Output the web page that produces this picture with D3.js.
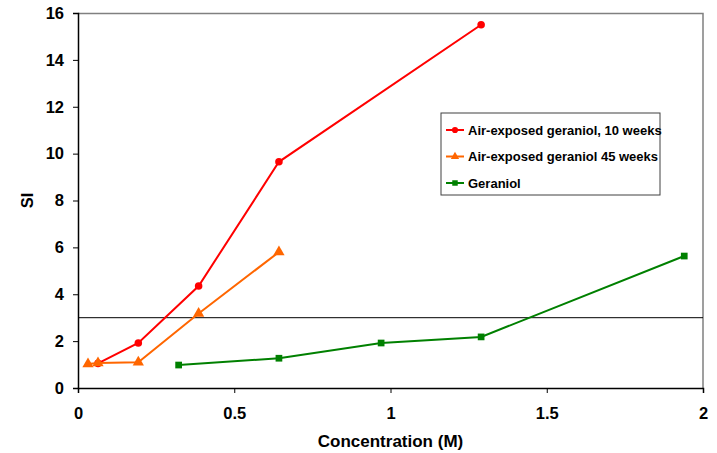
<!DOCTYPE html>
<html>
<head>
<meta charset="utf-8">
<script src="https://cdn.jsdelivr.net/npm/d3@7"></script>
<style>
  body { margin: 0; background: #fff; }
  text { font-family: "Liberation Sans", Arial, sans-serif; font-weight: bold; }
</style>
</head>
<body>
<div id="chart"></div>
<script>
// data
const seriesNames = ["Air-exposed geraniol, 10 weeks", "Air-exposed geraniol 45 weeks", "Geraniol"];
const red10x = [0.064, 0.193, 0.386, 0.643, 1.29];
const red10y = [1.05, 1.92, 4.35, 9.65, 15.5];
const orange45x = [0.032, 0.064, 0.193, 0.386, 0.643];
const orange45y = [1.02, 1.07, 1.1, 3.18, 5.8];
const geranX = [0.322, 0.643, 0.97, 1.29, 1.94];
const geranY = [0.98, 1.27, 1.92, 2.18, 5.63];
const threshold = 3;
const xTicks = [0, 0.5, 1, 1.5, 2];
const yTicks = [0, 2, 4, 6, 8, 10, 12, 14, 16];

const W = 717, H = 453;
const margin = { top: 13, right: 14, bottom: 65, left: 78 },
  width = W - margin.left - margin.right,
  height = H - margin.top - margin.bottom;

const colors = ["#ff0000", "#ff6600", "#008000"];
const symbols = [d3.symbolCircle, d3.symbolTriangle, d3.symbolSquare];

const series = [
  { name: seriesNames[0], pts: red10x.map((x, i) => [x, red10y[i]]) },
  { name: seriesNames[1], pts: orange45x.map((x, i) => [x, orange45y[i]]) },
  { name: seriesNames[2], pts: geranX.map((x, i) => [x, geranY[i]]) }
];

const x = d3.scaleLinear().domain([0, 2]).range([0, width]);
const y = d3.scaleLinear().domain([0, 16]).range([height, 0]);

const svg = d3.select("#chart")
  .append("svg")
  .attr("width", W)
  .attr("height", H)
  .append("g")
  .attr("transform", `translate(${margin.left}, ${margin.top})`);

// top + right frame
svg.append("path")
  .attr("d", `M0,0.5H${width}V${height}`)
  .attr("fill", "none")
  .attr("stroke", "#808080")
  .attr("stroke-width", 1.5);

// threshold line
svg.append("line")
  .attr("x1", 0).attr("x2", width)
  .attr("y1", y(threshold)).attr("y2", y(threshold))
  .attr("stroke", "#000").attr("stroke-width", 1);

// axes
svg.append("g")
  .attr("transform", `translate(0, ${height})`)
  .call(d3.axisBottom(x).tickValues(xTicks).tickFormat(d3.format("")).tickSize(5).tickPadding(14));
svg.append("g")
  .call(d3.axisLeft(y).tickValues(yTicks).tickSize(5).tickPadding(9));

svg.selectAll(".domain").attr("stroke", "#000").attr("stroke-width", 1.5);
svg.selectAll(".tick line").attr("stroke", "#000");
svg.selectAll(".tick text").style("font-size", "16.5px").attr("fill", "#000");

// lines + markers
const line = d3.line().x(d => x(d[0])).y(d => y(d[1]));
series.forEach((s, i) => {
  svg.append("path")
    .attr("d", line(s.pts))
    .attr("fill", "none")
    .attr("stroke", colors[i])
    .attr("stroke-width", 2);
  svg.selectAll(".m" + i)
    .data(s.pts)
    .enter()
    .append("path")
    .attr("d", d3.symbol().type(symbols[i]).size(i === 1 ? 55 : 45))
    .attr("transform", d => `translate(${x(d[0])}, ${y(d[1])})`)
    .attr("fill", colors[i]);
});

// axis titles
svg.append("text")
  .attr("x", width / 2)
  .attr("y", height + 59)
  .attr("text-anchor", "middle")
  .style("font-size", "17px")
  .text("Concentration (M)");

svg.append("text")
  .attr("transform", `translate(${-45}, ${height / 2}) rotate(-90)`)
  .attr("text-anchor", "middle")
  .style("font-size", "16.5px")
  .text("SI");

// legend
const lg = svg.append("g").attr("transform", `translate(${441 - margin.left}, ${113 - margin.top})`);
lg.append("rect")
  .attr("width", 219).attr("height", 82)
  .attr("fill", "#fff").attr("stroke", "#404040").attr("stroke-width", 1);
series.forEach((s, i) => {
  const gy = 17 + i * 26.5;
  lg.append("line")
    .attr("x1", 5).attr("x2", 23)
    .attr("y1", gy).attr("y2", gy)
    .attr("stroke", colors[i]).attr("stroke-width", 2);
  lg.append("path")
    .attr("d", d3.symbol().type(symbols[i]).size(30))
    .attr("transform", `translate(14, ${gy})`)
    .attr("fill", colors[i]);
  lg.append("text")
    .attr("x", 27).attr("y", gy + 4.5)
    .style("font-size", "13px")
    .text(s.name);
});
</script>
</body>
</html>
